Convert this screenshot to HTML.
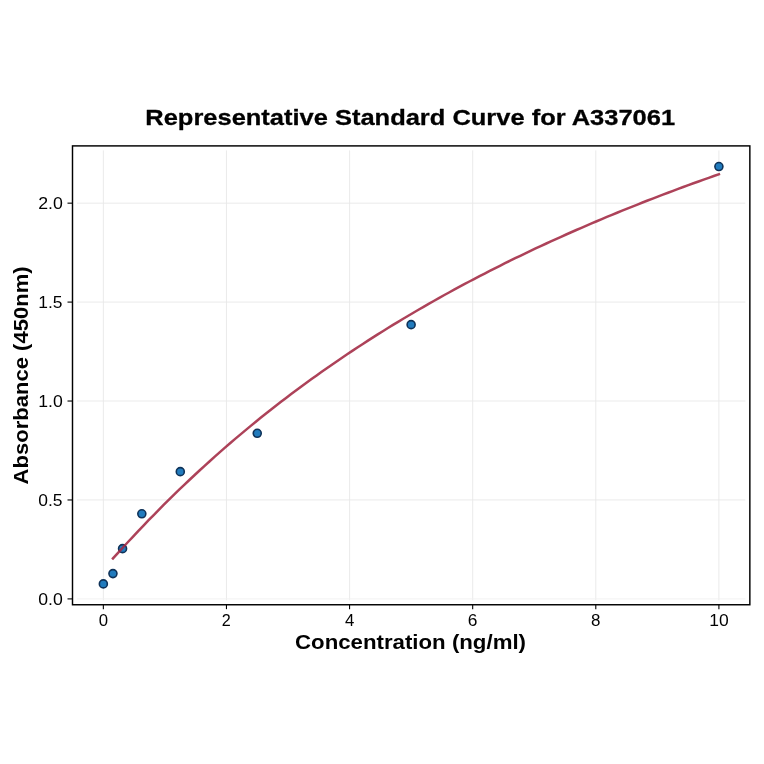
<!DOCTYPE html>
<html lang="en"><head><meta charset="utf-8"><title>Representative Standard Curve for A337061</title>
<style>html,body{margin:0;padding:0;background:#fff}body{width:764px;height:764px;overflow:hidden}svg{display:block}text{font-family:"Liberation Sans",sans-serif;fill:#000}.b{font-weight:bold}.t{stroke:#000;stroke-width:.3px;stroke-linejoin:round}</style></head><body>
<svg width="764" height="764" viewBox="0 0 764 764">
<rect width="764" height="764" fill="#fff"/>
<g stroke="#e8e8e8" stroke-width="0.9"><line x1="103.35" x2="103.35" y1="150.4" y2="600.25"/><line x1="226.46" x2="226.46" y1="150.4" y2="600.25"/><line x1="349.57" x2="349.57" y1="150.4" y2="600.25"/><line x1="472.68" x2="472.68" y1="150.4" y2="600.25"/><line x1="595.79" x2="595.79" y1="150.4" y2="600.25"/><line x1="718.90" x2="718.90" y1="150.4" y2="600.25"/><line x1="77.0" x2="745.35" y1="598.90" y2="598.90" stroke="#f0f0f0"/><line x1="77.0" x2="745.35" y1="499.96" y2="499.96"/><line x1="77.0" x2="745.35" y1="401.03" y2="401.03"/><line x1="77.0" x2="745.35" y1="302.09" y2="302.09"/><line x1="77.0" x2="745.35" y1="203.16" y2="203.16"/></g>
<g fill="#217bbd" stroke="#0f3258" stroke-width="1.6"><circle cx="103.35" cy="583.90" r="4.0"/><circle cx="112.95" cy="573.59" r="4.0"/><circle cx="122.56" cy="548.64" r="4.0"/><circle cx="141.82" cy="513.82" r="4.0"/><circle cx="180.29" cy="471.67" r="4.0"/><circle cx="257.24" cy="433.28" r="4.0"/><circle cx="411.12" cy="324.65" r="4.0"/><circle cx="718.90" cy="166.55" r="4.0"/></g>
<path d="M112.95,558.39 L118.04,552.80 L123.14,547.25 L128.23,541.74 L133.32,536.28 L138.41,530.88 L143.50,525.53 L148.60,520.24 L153.69,515.01 L158.78,509.83 L163.87,504.72 L168.96,499.66 L174.06,494.66 L179.15,489.71 L184.24,484.82 L189.33,479.99 L194.42,475.22 L199.52,470.49 L204.61,465.83 L209.70,461.21 L214.79,456.65 L219.88,452.14 L224.98,447.68 L230.07,443.27 L235.16,438.91 L240.25,434.60 L245.34,430.34 L250.44,426.13 L255.53,421.96 L260.62,417.84 L265.71,413.77 L270.80,409.74 L275.90,405.75 L280.99,401.81 L286.08,397.91 L291.17,394.06 L296.26,390.24 L301.36,386.47 L306.45,382.74 L311.54,379.05 L316.63,375.39 L321.72,371.78 L326.82,368.20 L331.91,364.66 L337.00,361.16 L342.09,357.69 L347.18,354.26 L352.28,350.87 L357.37,347.51 L362.46,344.19 L367.55,340.89 L372.64,337.64 L377.74,334.41 L382.83,331.22 L387.92,328.06 L393.01,324.93 L398.10,321.83 L403.20,318.77 L408.29,315.73 L413.38,312.72 L418.47,309.74 L423.56,306.80 L428.66,303.87 L433.75,300.98 L438.84,298.12 L443.93,295.28 L449.02,292.47 L454.12,289.69 L459.21,286.93 L464.30,284.20 L469.39,281.49 L474.48,278.81 L479.58,276.16 L484.67,273.53 L489.76,270.92 L494.85,268.34 L499.94,265.78 L505.04,263.24 L510.13,260.73 L515.22,258.23 L520.31,255.77 L525.40,253.32 L530.50,250.89 L535.59,248.49 L540.68,246.11 L545.77,243.75 L550.86,241.41 L555.96,239.09 L561.05,236.79 L566.14,234.51 L571.23,232.25 L576.32,230.01 L581.42,227.78 L586.51,225.58 L591.60,223.40 L596.69,221.23 L601.78,219.08 L606.88,216.95 L611.97,214.84 L617.06,212.75 L622.15,210.67 L627.24,208.61 L632.34,206.56 L637.43,204.54 L642.52,202.53 L647.61,200.53 L652.70,198.56 L657.80,196.59 L662.89,194.65 L667.98,192.72 L673.07,190.80 L678.16,188.90 L683.26,187.02 L688.35,185.15 L693.44,183.29 L698.53,181.45 L703.62,179.63 L708.72,177.81 L713.81,176.02 L718.90,174.23" fill="none" stroke="#a22842" stroke-width="2.5" stroke-opacity="0.88" stroke-linecap="square" stroke-linejoin="round"/>
<g stroke="#000" stroke-width="1.1"><line x1="103.35" x2="103.35" y1="604.75" y2="609.15"/><line x1="226.46" x2="226.46" y1="604.75" y2="609.15"/><line x1="349.57" x2="349.57" y1="604.75" y2="609.15"/><line x1="472.68" x2="472.68" y1="604.75" y2="609.15"/><line x1="595.79" x2="595.79" y1="604.75" y2="609.15"/><line x1="718.90" x2="718.90" y1="604.75" y2="609.15"/><line x1="67.50" x2="72.5" y1="598.90" y2="598.90"/><line x1="67.50" x2="72.5" y1="499.96" y2="499.96"/><line x1="67.50" x2="72.5" y1="401.03" y2="401.03"/><line x1="67.50" x2="72.5" y1="302.09" y2="302.09"/><line x1="67.50" x2="72.5" y1="203.16" y2="203.16"/></g>
<rect x="72.5" y="145.9" width="677.35" height="458.85" fill="none" stroke="#000" stroke-width="1.45"/>
<g opacity="0.999">
<text transform="translate(98.68,626.25) scale(0.9930,1)" font-size="16.9">0</text>
<text transform="translate(221.75,626.25) scale(0.9571,1)" font-size="16.9">2</text>
<text transform="translate(344.90,626.25) scale(0.9931,1)" font-size="16.9">4</text>
<text transform="translate(467.85,626.25) scale(1.0277,1)" font-size="16.9">6</text>
<text transform="translate(591.07,626.25) scale(1.0038,1)" font-size="16.9">8</text>
<text transform="translate(709.19,626.25) scale(1.0357,1)" font-size="16.9">10</text>
<text transform="translate(38.24,604.90) scale(1.0468,1)" font-size="16.9">0.0</text>
<text transform="translate(38.25,505.96) scale(1.0341,1)" font-size="16.9">0.5</text>
<text transform="translate(38.29,407.03) scale(1.0448,1)" font-size="16.9">1.0</text>
<text transform="translate(38.30,308.09) scale(1.0317,1)" font-size="16.9">1.5</text>
<text transform="translate(38.16,209.16) scale(1.0506,1)" font-size="16.9">2.0</text>
<text class="b t" x="145.3" y="125.2" font-size="22.5" textLength="529.8" lengthAdjust="spacingAndGlyphs">Representative Standard Curve for A337061</text>
<text class="b" x="295.0" y="648.6" font-size="19.7" textLength="231" lengthAdjust="spacingAndGlyphs">Concentration (ng/ml)</text>
<text class="b" transform="translate(28.4,484.40000000000003) rotate(-90)" font-size="19.7" textLength="218" lengthAdjust="spacingAndGlyphs">Absorbance (450nm)</text>
</g>
</svg></body></html>
